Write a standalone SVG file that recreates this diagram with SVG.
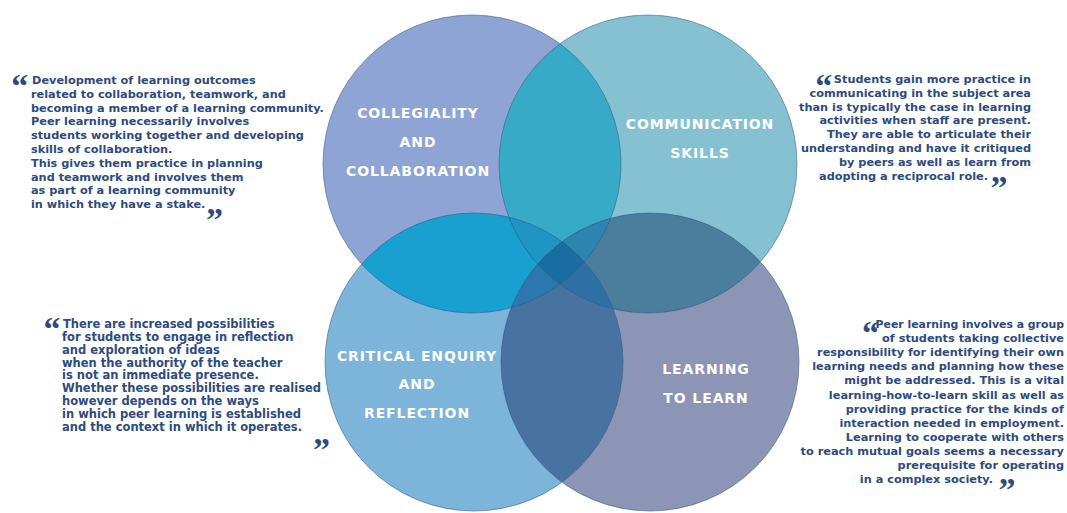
<svg xmlns="http://www.w3.org/2000/svg" width="1067" height="513" viewBox="0 0 1067 513">
<style>
.t{font-family:"DejaVu Sans",Verdana,sans-serif;font-weight:bold;font-size:11.3px;fill:#2d4b7d}
.s{font-size:11.5px}
.e{text-anchor:end}
.q{font-family:"Liberation Serif","Times New Roman",serif;font-weight:bold;font-size:34px;fill:#2d4b7d}
.lbl{font-family:"DejaVu Sans",Verdana,sans-serif;font-weight:bold;font-size:14px;fill:#ffffff;text-anchor:middle;letter-spacing:0.9px}
.ol{fill:none;stroke:#2f5a86;stroke-opacity:0.55;stroke-width:1}
</style>
<defs>
<clipPath id="cTL"><circle cx="472" cy="164" r="149"/></clipPath>
<clipPath id="cTR"><circle cx="648" cy="164" r="149"/></clipPath>
<clipPath id="cBL"><circle cx="474" cy="362" r="149"/></clipPath>
<clipPath id="cBR"><circle cx="650" cy="362" r="149"/></clipPath>
</defs>
<rect width="1067" height="513" fill="#ffffff"/>

<g id="node-collegiality">
<circle cx="472" cy="164" r="149" fill="#8ea4d4"/>
<text class="lbl" x="418" y="118">COLLEGIALITY</text>
<text class="lbl" x="418" y="147">AND</text>
<text class="lbl" x="418" y="176">COLLABORATION</text>
</g>
<g id="node-communication">
<circle cx="648" cy="164" r="149" fill="#86c1d1"/>
<text class="lbl" x="700" y="129">COMMUNICATION</text>
<text class="lbl" x="700" y="158">SKILLS</text>
</g>
<g id="node-critical">
<circle cx="474" cy="362" r="149" fill="#7cb4da"/>
<text class="lbl" x="417" y="361">CRITICAL ENQUIRY</text>
<text class="lbl" x="417" y="389">AND</text>
<text class="lbl" x="417" y="418">REFLECTION</text>
</g>
<g id="node-learning">
<circle cx="650" cy="362" r="149" fill="#8c95b5"/>
<text class="lbl" x="706" y="374">LEARNING</text>
<text class="lbl" x="706" y="403">TO LEARN</text>
</g>

<g id="overlaps">
<circle cx="648" cy="164" r="149" fill="#37aac8" clip-path="url(#cTL)"/>
<circle cx="474" cy="362" r="149" fill="#17a0d0" clip-path="url(#cTL)"/>
<circle cx="650" cy="362" r="149" fill="#4b7d9d" clip-path="url(#cTR)"/>
<circle cx="650" cy="362" r="149" fill="#4872a0" clip-path="url(#cBL)"/>
<circle cx="650" cy="362" r="149" fill="#3a86b8" clip-path="url(#cTL)"/>
<circle cx="474" cy="362" r="149" fill="#2a8fc0" clip-path="url(#cTR)"/>
<g clip-path="url(#cTL)"><circle cx="474" cy="362" r="149" fill="#1f95c6" clip-path="url(#cTR)"/></g>
<g clip-path="url(#cTL)"><circle cx="650" cy="362" r="149" fill="#2d84ae" clip-path="url(#cTR)"/></g>
<g clip-path="url(#cTL)"><circle cx="650" cy="362" r="149" fill="#2a78ae" clip-path="url(#cBL)"/></g>
<g clip-path="url(#cTR)"><circle cx="650" cy="362" r="149" fill="#2f70a4" clip-path="url(#cBL)"/></g>
<g clip-path="url(#cTL)"><g clip-path="url(#cTR)"><circle cx="474" cy="362" r="149" fill="#196da1" clip-path="url(#cBR)"/></g></g>
</g>

<g id="outlines">
<circle class="ol" cx="472" cy="164" r="149"/>
<circle class="ol" cx="648" cy="164" r="149"/>
<circle class="ol" cx="474" cy="362" r="149"/>
<circle class="ol" cx="650" cy="362" r="149"/>
</g>

<g id="quote-collegiality">
<text class="q" x="11.3" y="96.5">“</text>
<text class="t" x="32" y="84">Development of learning outcomes</text>
<text class="t" x="31" y="97.8">related to collaboration, teamwork, and</text>
<text class="t" x="31" y="111.6">becoming a member of a learning community.</text>
<text class="t" x="31" y="125.4">Peer learning necessarily involves</text>
<text class="t" x="31" y="139.2">students working together and developing</text>
<text class="t" x="31" y="153">skills of collaboration.</text>
<text class="t" x="31" y="166.8">This gives them practice in planning</text>
<text class="t" x="31" y="180.6">and teamwork and involves them</text>
<text class="t" x="31" y="194.4">as part of a learning community</text>
<text class="t" x="31" y="208.2">in which they have a stake.</text>
<text class="q" x="206" y="230.5">”</text>
</g>

<g id="quote-communication">
<text class="q" x="815.3" y="96.5">“</text>
<text class="t e" x="1031" y="83">Students gain more practice in</text>
<text class="t e" x="1031" y="96.8">communicating in the subject area</text>
<text class="t e" x="1031" y="110.6">than is typically the case in learning</text>
<text class="t e" x="1031" y="124.4">activities when staff are present.</text>
<text class="t e" x="1031" y="138.2">They are able to articulate their</text>
<text class="t e" x="1031" y="152">understanding and have it critiqued</text>
<text class="t e" x="1031" y="165.8">by peers as well as learn from</text>
<text class="t e" x="988" y="179.6">adopting a reciprocal role.</text>
<text class="q" x="990.6" y="198.5">”</text>
</g>

<g id="quote-critical">
<text class="q" x="43.6" y="340">“</text>
<text class="t s" x="63" y="328">There are increased possibilities</text>
<text class="t s" x="62" y="340.9">for students to engage in reflection</text>
<text class="t s" x="62" y="353.7">and exploration of ideas</text>
<text class="t s" x="62" y="366.6">when the authority of the teacher</text>
<text class="t s" x="62" y="379.4">is not an immediate presence.</text>
<text class="t s" x="62" y="392.3">Whether these possibilities are realised</text>
<text class="t s" x="62" y="405.1">however depends on the ways</text>
<text class="t s" x="62" y="418">in which peer learning is established</text>
<text class="t s" x="62" y="430.8">and the context in which it operates.</text>
<text class="q" x="313" y="461">”</text>
</g>

<g id="quote-learning">
<text class="q" x="862" y="343.5">“</text>
<text class="t e" x="1064" y="328" style="font-size:10.9px">Peer learning involves a group</text>
<text class="t e" x="1064" y="342.1">of students taking collective</text>
<text class="t e" x="1064" y="356.2">responsibility for identifying their own</text>
<text class="t e" x="1064" y="370.3">learning needs and planning how these</text>
<text class="t e" x="1064" y="384.4">might be addressed. This is a vital</text>
<text class="t e" x="1064" y="398.5">learning-how-to-learn skill as well as</text>
<text class="t e" x="1064" y="412.6">providing practice for the kinds of</text>
<text class="t e" x="1064" y="426.7">interaction needed in employment.</text>
<text class="t e" x="1064" y="440.8">Learning to cooperate with others</text>
<text class="t e" x="1064" y="454.9">to reach mutual goals seems a necessary</text>
<text class="t e" x="1064" y="469">prerequisite for operating</text>
<text class="t e" x="993" y="483.1">in a complex society.</text>
<text class="q" x="998.6" y="500.5">”</text>
</g>
</svg>
